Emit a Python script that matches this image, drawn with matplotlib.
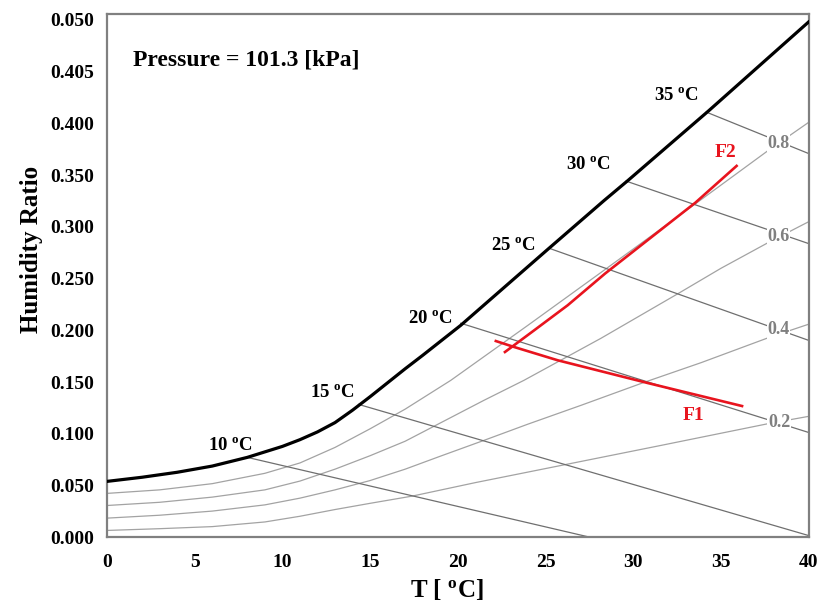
import matplotlib
matplotlib.use("Agg")
import matplotlib.pyplot as plt

# humidity ratio values in g/kg (converted to kg/kg when drawn)
sat_T = [0, 2, 4, 6, 8, 10, 11, 12, 13, 14, 15, 16, 17, 18, 20.17, 25.14, 28.34, 29.71, 34.29, 40.0]
sat_w = [5.42, 5.82, 6.3, 6.9, 7.74, 8.8, 9.45, 10.2, 11.1, 12.3, 13.6, 14.95, 16.3, 17.6,
         20.5, 27.85, 32.55, 34.5, 41.2, 49.8]

rh_T = {
    "0.8": [0, 3, 6, 9, 11, 13, 15, 17, 19.6, 24, 28.57, 33.6, 37.71, 40.0],
    "0.6": [0, 3, 6, 9, 11, 13, 15, 17, 18.74, 21.49, 23.77, 28.17, 32.6, 35, 37.71, 40.0],
    "0.4": [0, 3, 6, 9, 11, 13, 15, 17, 19, 21.49, 24, 27.03, 30.63, 33.89, 37.71, 40.0],
    "0.2": [0, 3, 6, 9, 11, 13, 15, 17.41, 21, 25.89, 31.6, 37.71, 40.0],
}
rh_w = {
    "0.8": [4.26, 4.6, 5.2, 6.2, 7.2, 8.7, 10.5, 12.4, 15.18, 20.5, 26.1, 32.3, 37.4, 40.1],
    "0.6": [3.09, 3.4, 3.9, 4.6, 5.45, 6.6, 7.9, 9.3, 10.83, 13.25, 15.18, 19.25, 23.6, 26.0, 28.5, 30.5],
    "0.4": [1.87, 2.15, 2.55, 3.15, 3.8, 4.6, 5.5, 6.6, 7.85, 9.38, 10.95, 12.77, 14.99, 16.9, 19.3, 20.6],
    "0.2": [0.68, 0.85, 1.05, 1.5, 2.05, 2.7, 3.3, 4.0, 5.3, 6.96, 8.9, 11.0, 11.7],
}
rh_label_pos = {"0.8": (38.29, 38.1), "0.6": (38.29, 29.1), "0.4": (38.29, 20.1), "0.2": (38.32, 11.1)}

# wet bulb lines: start on saturation curve, end on the axes
wb_names = ["10", "15", "20", "25", "30", "35"]
wb_T0 = [8.0, 14.34, 20.17, 25.2, 29.6, 34.17]
wb_w0 = [7.74, 12.86, 20.7, 27.95, 34.43, 41.1]
wb_T1 = [27.6, 40.0, 40.0, 40.0, 40.0, 40.0]
wb_w1 = [0.0, 0.19, 10.15, 19.05, 28.4, 37.1]
wb_label_T = [7.03, 12.86, 18.46, 23.14, 27.43, 32.46]
wb_label_w = [8.9, 14.0, 21.18, 28.24, 36.07, 42.75]

F1_T = [22.17, 23.22, 25.70, 30.84, 36.21]
F1_w = [18.98, 18.40, 17.12, 14.92, 12.70]
F2_T = [22.69, 24.36, 26.27, 28.4, 33.55, 35.9]
F2_w = [17.92, 20.02, 22.44, 25.5, 32.35, 35.9]

y_ticks = [i * 0.005 for i in range(11)]
y_ticklabels = ["0.000", "0.050", "0.100", "0.150", "0.200", "0.250",
                "0.300", "0.350", "0.400", "0.405", "0.050"]
x_ticks = [0, 5, 10, 15, 20, 25, 30, 35, 40]

plt.rcParams["font.family"] = "Liberation Serif"
plt.rcParams["font.weight"] = "bold"
plt.rcParams["axes.labelweight"] = "bold"
plt.rcParams["mathtext.fontset"] = "custom"
plt.rcParams["mathtext.rm"] = "Liberation Serif:bold"
plt.rcParams["mathtext.bf"] = "Liberation Serif:bold"
plt.rcParams["mathtext.it"] = "Liberation Serif:bold"


def g(vals):
    return [v / 1000 for v in vals]


fig = plt.figure(figsize=(8.24, 6.05), dpi=100)
ax = fig.add_axes([0.1299, 0.1116, 0.8513, 0.8648])

# relative humidity curves
for key in rh_T:
    ax.plot(rh_T[key], g(rh_w[key]), color="#a3a3a3", lw=0.9, zorder=2)

# wet bulb lines
for i in range(len(wb_names)):
    ax.plot([wb_T0[i], wb_T1[i]], g([wb_w0[i], wb_w1[i]]), color="#6f6f6f", lw=0.9, zorder=2)
    ax.text(wb_label_T[i], wb_label_w[i] / 1000, wb_names[i] + r" $^{\rm o}$C",
            fontsize=13.5, ha="center", va="center", zorder=5)

for key, (tx, ty) in rh_label_pos.items():
    ax.text(tx, ty / 1000, key, fontsize=13, color="#808080", ha="center", va="center",
            bbox=dict(facecolor="white", edgecolor="none", pad=0.5), zorder=4)

# saturation curve
ax.plot(sat_T, g(sat_w), color="black", lw=2.3, zorder=3)

ax.plot(F1_T, g(F1_w), color="#e8141e", lw=1.9, zorder=6)
ax.plot(F2_T, g(F2_w), color="#e8141e", lw=1.9, zorder=6)
ax.text(33.43, 0.0118, "F1", color="#e8141e", fontsize=14, ha="center", va="center")
ax.text(35.26, 0.03723, "F2", color="#e8141e", fontsize=14, ha="center", va="center")

ax.text(1.49, 0.0461, "Pressure = 101.3 [kPa]", fontsize=17, ha="left", va="center")

ax.set_xlim(0, 40)
ax.set_ylim(0, 0.05055)
ax.set_xticks(x_ticks)
ax.set_yticks(y_ticks)
ax.set_yticklabels(y_ticklabels)
ax.tick_params(length=0, labelsize=14, pad=9)
ax.tick_params(axis="x", pad=12)
for s in ax.spines.values():
    s.set_color("#808080")
    s.set_linewidth(1.6)

ax.set_xlabel(r"T [ $^{\rm o}$C]", fontsize=18)
ax.set_ylabel("Humidity Ratio", fontsize=18)
ax.xaxis.set_label_coords(0.485, -0.075)
ax.yaxis.set_label_coords(-0.092, 0.55)

fig.savefig("out.png", dpi=100)
